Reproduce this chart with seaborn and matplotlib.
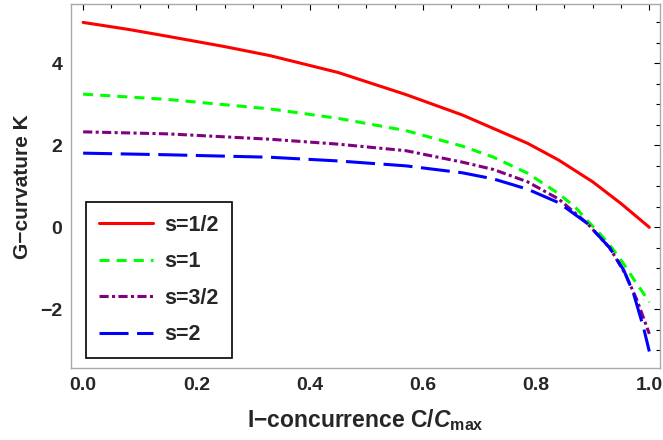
import pandas as pd
import seaborn as sns
import matplotlib.pyplot as plt
from matplotlib.ticker import MultipleLocator

# values
x_half = [0.0, 0.08, 0.15, 0.25, 0.33, 0.45, 0.57, 0.67, 0.785, 0.84, 0.9, 0.95, 1.0]
k_half = [5.0, 4.83, 4.66, 4.41, 4.19, 3.78, 3.24, 2.74, 2.05, 1.64, 1.11, 0.58, 0.0]

x_one = [0.0, 0.15, 0.33, 0.45, 0.57, 0.67, 0.725, 0.785, 0.84, 0.87, 0.89, 0.913, 0.934, 0.955, 0.975, 0.99, 1.0]
k_one = [3.25, 3.12, 2.89, 2.66, 2.36, 1.98, 1.71, 1.32, 0.82, 0.48, 0.17, -0.16, -0.50, -0.90, -1.32, -1.62, -1.83]

x_three_half = [0.0, 0.15, 0.33, 0.45, 0.57, 0.67, 0.725, 0.785, 0.84, 0.89, 0.93, 0.958, 0.978, 0.99, 1.0]
k_three_half = [2.33, 2.28, 2.15, 2.03, 1.87, 1.59, 1.41, 1.11, 0.69, 0.10, -0.50, -1.15, -1.77, -2.22, -2.6]

x_two = [0.0, 0.15, 0.33, 0.45, 0.57, 0.67, 0.725, 0.785, 0.84, 0.89, 0.93, 0.955, 0.972, 0.99, 1.0]
k_two = [1.81, 1.77, 1.71, 1.62, 1.50, 1.33, 1.18, 0.93, 0.60, 0.10, -0.50, -1.05, -1.61, -2.46, -3.03]

labels = ["s=1/2", "s=1", "s=3/2", "s=2"]

df = pd.concat([
    pd.DataFrame({"x": x_half, "K": k_half, "s": labels[0]}),
    pd.DataFrame({"x": x_one, "K": k_one, "s": labels[1]}),
    pd.DataFrame({"x": x_three_half, "K": k_three_half, "s": labels[2]}),
    pd.DataFrame({"x": x_two, "K": k_two, "s": labels[3]}),
])

colors = {"s=1/2": "#ff0000", "s=1": "#00ff00", "s=3/2": "#800080", "s=2": "#0000ff"}
dashes = {"s=1/2": "", "s=1": (3.3, 2.3), "s=3/2": (3.0, 1.1, 1.0, 1.1), "s=2": (9.5, 2.8)}

sns.set_style("white")
plt.rcParams["font.family"] = ["Liberation Sans", "DejaVu Sans"]
plt.rcParams["font.weight"] = "bold"
plt.rcParams["mathtext.fontset"] = "custom"
plt.rcParams["mathtext.rm"] = "Liberation Sans:bold"
plt.rcParams["mathtext.it"] = "Liberation Sans:italic:bold"
plt.rcParams["mathtext.bf"] = "Liberation Sans:bold"

fig = plt.figure(figsize=(6.63, 4.4), dpi=100)
ax = fig.add_axes([0.1066, 0.163, 0.889, 0.827])

sns.lineplot(data=df, x="x", y="K", hue="s", style="s", palette=colors,
             dashes=dashes, linewidth=2.2, ax=ax, sort=False)

ax.set_xlim(-0.022, 1.019)
ax.set_ylim(-3.44, 5.44)
ax.xaxis.set_minor_locator(MultipleLocator(0.05))
ax.yaxis.set_minor_locator(MultipleLocator(0.5))
ax.set_xticks([0, 0.2, 0.4, 0.6, 0.8, 1.0])
ax.set_xticklabels(["0.0", "0.2", "0.4", "0.6", "0.8", "1.0"])
ax.set_yticks([-2, 0, 2, 4])
ax.set_yticklabels(["\u22122", "0", "2", "4"])

ax.tick_params(which="both", direction="in", top=True, right=True,
               color="black", width=0.8, labelsize=14, pad=6)
ax.tick_params(which="major", length=4.5)
ax.tick_params(which="minor", length=2.8)
for sp in ax.spines.values():
    sp.set_color("#aaaaaa")
    sp.set_linewidth(1.0)

ax.set_xlabel("I\u2212concurrence C/$\\mathit{C}_{\\mathrm{max}}$", fontsize=16.5,
              fontweight="bold", labelpad=10)
ax.set_ylabel("G\u2212curvature K", fontsize=15, fontweight="bold", labelpad=6)

leg = ax.legend(loc="lower left", bbox_to_anchor=(0.026, 0.028), borderaxespad=0,
                fontsize=15.5, handlelength=2.5, handletextpad=0.55, labelspacing=0.72,
                borderpad=0.6, fancybox=False, framealpha=1, title=None)
leg.get_frame().set_edgecolor("black")
leg.get_frame().set_linewidth(1.2)
for t in leg.get_texts():
    t.set_fontweight("bold")

fig.savefig("out.png", dpi=100)
